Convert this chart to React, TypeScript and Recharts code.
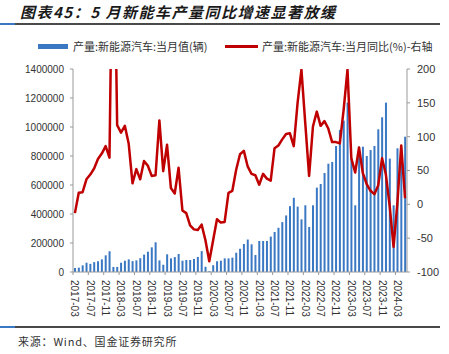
import React from 'react';
import { ComposedChart, Bar, Line, XAxis, YAxis } from 'recharts';

// monthly categories, 2017-03 .. 2024-05
const startYear = 2017;
const startMonth = 3;
const monthCount = 87;
const months: string[] = Array.from({ length: monthCount }, (_, i) => {
  const m = startMonth - 1 + i;
  const y = startYear + Math.floor(m / 12);
  return `${y}-${String((m % 12) + 1).padStart(2, '0')}`;
});

// 产量:新能源汽车:当月值(辆)
const output = [
  28000, 30000, 46000, 64000, 56000, 68000, 74000, 87000, 115000, 143000,
  35000, 35000, 64000, 78000, 87000, 75000, 80000, 95000, 120000, 140000,
  170000, 205000, 80000, 50000, 122000, 94000, 103000, 124000, 78000, 83000,
  83000, 90000, 104000, 144000, 36000, 6000, 47000, 74000, 78000, 94000,
  94000, 99000, 133000, 160000, 193000, 224000, 191000, 117000, 214000, 214000,
  214000, 244000, 276000, 305000, 344000, 390000, 454000, 512000, 451000, 363000,
  460000, 310000, 460000, 582000, 607000, 683000, 747000, 759000, 869000, 980000,
  1044000, 1168000, 785000, 460000, 864000, 864000, 800000, 841000, 869000, 984000,
  1067000, 1168000, 782000, 460000, 853000, 853000, 933000,
];

// 产量:新能源汽车:当月同比(%)
const yoy = [
  -13, 17, 18, 37, 44, 53, 67, 75, 86, 69,
  500, 117, 106, 116, 90, 31, 52, 37, 64, 57,
  42, 43, 124, 49, 88, 24, 16, 54, -9, -13,
  -31, -37, -38, -30, -53, -84, -53, -22, -27, -26,
  17, 20, 51, 74, 79, 56, 45, 43, 29, 45,
  38, 35, 83, 87, 96, 104, 105, 86, 150, 199,
  120, 42, 115, 137, 116, 123, 112, 92, 92, 90,
  140, 199, 68, 47, 84, 46, 30, 20, 15, 28,
  68, 44, -3, -63, 2, 87, 9,
];

const leftTicks = [0, 200000, 400000, 600000, 800000, 1000000, 1200000, 1400000];
const rightTicks = [-100, -50, 0, 50, 100, 150, 200];

const barName = '产量:新能源汽车:当月值(辆)';
const lineName = '产量:新能源汽车:当月同比(%)-右轴';

const data = months.map((month, i) => ({ month, output: output[i], yoy: yoy[i] }));

const W = 449;
const H = 354;
const plotLeft = 73;
const plotRight = 407;
const band = (plotRight - plotLeft) / monthCount;

const cjk = '"Noto Sans CJK SC", "Noto Sans", sans-serif';
const latin = '"Liberation Sans", Arial, sans-serif';

const MonthTick = (props: any) => {
  const { x, y, payload } = props;
  return (
    <g>
      <line x1={x - band / 2} x2={x - band / 2} y1={y} y2={y + 3} stroke="#999" strokeWidth={1} />
      <text
        transform={`translate(${x},${y + 8}) rotate(90)`}
        textAnchor="start"
        dominantBaseline="central"
        fontSize={10}
        fontFamily={latin}
        fill="#333"
      >
        {payload.value}
      </text>
    </g>
  );
};

const Rule = ({ top }: { top: number }) => (
  <>
    <div style={{ position: 'absolute', left: 15, top, width: 425, height: 2, background: '#4a4a4a' }} />
    <div style={{ position: 'absolute', left: 0, top, width: 15, height: 2, background: '#3a78c4' }} />
  </>
);

export default function App() {
  return (
    <div style={{ position: 'absolute', left: 0, top: 0, width: W, height: H, background: '#fff', overflow: 'hidden' }}>
      <div
        style={{
          position: 'absolute',
          left: 20,
          top: 2,
          fontFamily: cjk,
          fontSize: 15,
          fontWeight: 'bold',
          fontStyle: 'italic',
          letterSpacing: 1.5,
          color: '#1a1a1a',
          whiteSpace: 'nowrap',
          lineHeight: '20px',
        }}
      >
        图表45：5 月新能车产量同比增速显著放缓
      </div>
      <Rule top={23} />

      {/* legend */}
      <div style={{ position: 'absolute', left: 38, top: 44, width: 30, height: 5, background: '#3a78c4' }} />
      <div style={{ position: 'absolute', left: 73, top: 38, fontFamily: cjk, fontSize: 11, lineHeight: '16px', color: '#333', whiteSpace: 'nowrap' }}>
        {barName}
      </div>
      <div style={{ position: 'absolute', left: 225, top: 45, width: 33, height: 3, background: '#c00000' }} />
      <div style={{ position: 'absolute', left: 262, top: 38, fontFamily: cjk, fontSize: 11, lineHeight: '16px', color: '#333', whiteSpace: 'nowrap' }}>
        {lineName}
      </div>

      <div style={{ position: 'absolute', left: 0, top: 0 }}>
        <ComposedChart width={W} height={H} data={data} margin={{ top: 69, right: 0, bottom: 22, left: 0 }}>
          <XAxis
            dataKey="month"
            interval={3}
            height={60}
            tickSize={0}
            tickMargin={0}
            tickLine={false}
            tick={<MonthTick />}
            axisLine={{ stroke: '#999' }}
          />
          <YAxis
            yAxisId="left"
            width={plotLeft}
            domain={[0, 1400000]}
            ticks={leftTicks}
            tickSize={3}
            tickMargin={6}
            axisLine={{ stroke: '#999' }}
            tickLine={{ stroke: '#999' }}
            tick={{ fontSize: 10, fill: '#333', fontFamily: latin }}
          />
          <YAxis
            yAxisId="right"
            orientation="right"
            width={W - plotRight}
            domain={[-100, 200]}
            ticks={rightTicks}
            allowDataOverflow
            tickSize={3}
            tickMargin={7}
            axisLine={{ stroke: '#999' }}
            tickLine={{ stroke: '#999' }}
            tick={{ fontSize: 11, fill: '#333', fontFamily: latin, textAnchor: 'start' }}
          />
          <Bar yAxisId="left" dataKey="output" name={barName} fill="#3a78c4" barSize={2} isAnimationActive={false} />
          <Line
            yAxisId="right"
            type="linear"
            dataKey="yoy"
            name={lineName}
            stroke="#c00000"
            strokeWidth={2.5}
            strokeLinejoin="round"
            dot={false}
            activeDot={false}
            isAnimationActive={false}
          />
        </ComposedChart>
      </div>

      <Rule top={326} />
      <div
        style={{
          position: 'absolute',
          left: 18,
          top: 333,
          fontFamily: cjk,
          fontSize: 11,
          lineHeight: '16px',
          letterSpacing: 0.8,
          color: '#333',
          whiteSpace: 'nowrap',
        }}
      >
        来源：Wind、国金证券研究所
      </div>
    </div>
  );
}
